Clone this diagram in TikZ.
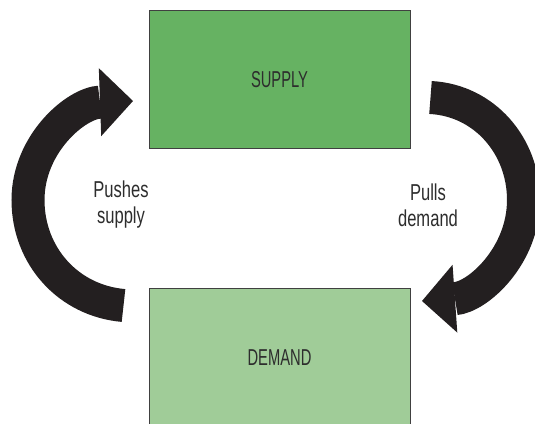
\documentclass[tikz,border=0pt]{standalone}
\usepackage{fontspec}
\setmainfont{Liberation Sans}[FakeStretch=0.64]
\newfontfamily\notefont{Liberation Sans}[FakeStretch=0.72]
\usetikzlibrary{arrows.meta}

\begin{document}
\begin{tikzpicture}[x=1pt, y=1pt]
% Define colors
\definecolor{supplygreen}{RGB}{102, 178, 98}
\definecolor{demandgreen}{RGB}{160, 204, 152}
\definecolor{boxline}{RGB}{64, 64, 64}
\definecolor{arrowblack}{RGB}{35, 31, 32}
\definecolor{textgray}{RGB}{45, 45, 45}

\tikzset{
  greenbox/.style={draw=boxline, line width=1pt, minimum width=261pt, minimum height=138pt, inner sep=0pt, text=textgray, font=\fontsize{23}{26}\selectfont},
  loopnote/.style={align=center, text=textgray, font=\notefont\fontsize{23}{26}\selectfont},
  looparrow/.style={arrowblack, line width=33pt, -{Triangle[width=68pt, length=33pt, line width=0pt]}}
}

% Canvas
\useasboundingbox (0,0) rectangle (535,423);
\clip (0,0) rectangle (535,423);

% Boxes
\node[greenbox, fill=supplygreen] (supply) at (279.5, 343) {SUPPLY};
\node[greenbox, fill=demandgreen] (demand) at (279.5, 65) {DEMAND};

% Labels
\node[loopnote] (push) at (121, 218) {Pushes\\supply};
\node[loopnote] (pull) at (428, 218) {Pulls\\demand};

% Arrow ends
\coordinate (pushtail) at (123.5, 117.5);
\coordinate (pushbend) at (28, 223);
\coordinate (pushtip) at (133, 322);
\coordinate (pulltail) at (430.5, 325.5);
\coordinate (pullbend) at (523.5, 223);
\coordinate (pulltip) at (422, 122);

% Loop arrows
\draw[looparrow] (pushtail) to[out=175, in=-90] (pushbend) to[out=90, in=182] (pushtip);
\draw[looparrow] (pulltail) to[out=-3, in=90] (pullbend) to[out=-90, in=4] (pulltip);

\end{tikzpicture}
\end{document}
